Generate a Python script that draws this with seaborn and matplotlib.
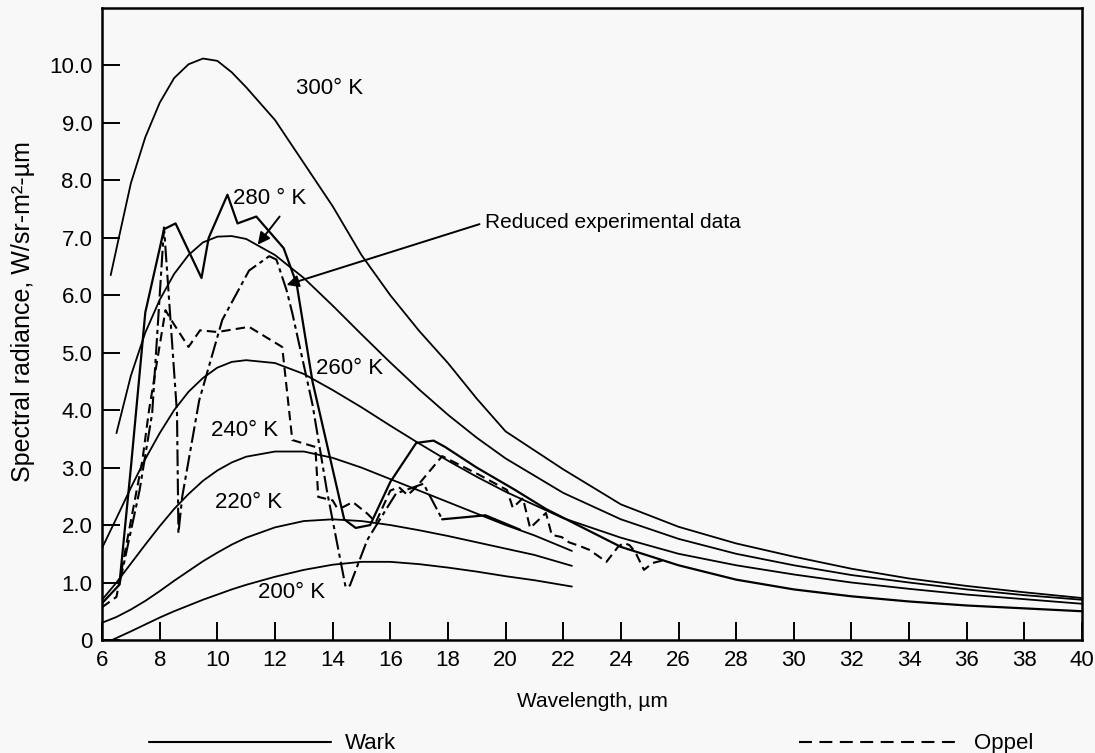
import matplotlib
matplotlib.use("Agg")
import matplotlib.pyplot as plt
import pandas as pd
import seaborn as sns
from matplotlib.lines import Line2D

# blackbody curves, values (wavelength um, W/sr-m2-um)
T300_X = [6.3, 6.6, 7.0, 7.5, 8.0, 8.5, 9.0, 9.5, 10.0, 10.5, 11.0, 12.0, 13.0, 14.0, 15.0,
          16.0, 17.0, 18.0, 19.0, 20.0, 22.0, 24.0, 26.0, 28.0, 30.0, 32.0, 34.0, 36.0, 38.0, 40.0]
T300_Y = [6.35, 7.04, 7.95, 8.75, 9.35, 9.78, 10.02, 10.12, 10.08, 9.88, 9.62, 9.05, 8.3, 7.55, 6.7,
          6.0, 5.38, 4.82, 4.2, 3.63, 2.97, 2.36, 1.97, 1.68, 1.45, 1.24, 1.07, 0.94, 0.83, 0.73]

T280_X = [6.5, 7.0, 7.5, 8.0, 8.5, 9.0, 9.5, 10.0, 10.5, 11.0, 12.0, 13.0, 14.0, 15.0, 16.0,
          17.0, 18.0, 19.0, 20.0, 22.0, 24.0, 26.0, 28.0, 30.0, 32.0, 34.0, 36.0, 38.0, 40.0]
T280_Y = [3.6, 4.6, 5.35, 5.92, 6.37, 6.7, 6.92, 7.02, 7.03, 6.98, 6.7, 6.3, 5.82, 5.32, 4.83,
          4.36, 3.92, 3.52, 3.16, 2.56, 2.1, 1.76, 1.5, 1.3, 1.13, 1.0, 0.88, 0.78, 0.70]

T260_X = [6.0, 6.5, 7.0, 7.5, 8.0, 8.5, 9.0, 9.5, 10.0, 10.5, 11.0, 12.0, 13.0, 14.0, 15.0,
          16.0, 17.0, 18.0, 19.0, 20.0, 22.0, 24.0, 26.0, 28.0, 30.0, 32.0, 34.0, 36.0, 38.0, 40.0]
T260_Y = [1.6, 2.12, 2.65, 3.15, 3.6, 4.0, 4.32, 4.56, 4.74, 4.84, 4.87, 4.82, 4.63, 4.35, 4.05,
          3.73, 3.42, 3.12, 2.84, 2.58, 2.12, 1.78, 1.5, 1.3, 1.14, 1.0, 0.89, 0.79, 0.71, 0.63]

SHORT_X = [6.0, 6.5, 7.0, 7.5, 8.0, 8.5, 9.0, 9.5, 10.0, 10.5, 11.0, 12.0, 13.0, 14.0, 15.0,
           16.0, 17.0, 18.0, 19.0, 20.0, 21.0, 22.3]
T240_Y = [0.7, 1.0, 1.33, 1.66, 1.98, 2.28, 2.54, 2.77, 2.95, 3.09, 3.19, 3.28, 3.28, 3.17, 3.0,
          2.8, 2.6, 2.4, 2.2, 2.0, 1.82, 1.55]
T220_Y = [0.3, 0.4, 0.53, 0.68, 0.85, 1.03, 1.2, 1.37, 1.52, 1.66, 1.78, 1.96, 2.07, 2.1, 2.07,
          2.0, 1.91, 1.81, 1.7, 1.59, 1.48, 1.29]

T200_X = [6.35, 7.0, 7.5, 8.0, 8.5, 9.0, 9.5, 10.0, 10.5, 11.0, 12.0, 13.0, 14.0, 15.0, 16.0,
          17.0, 18.0, 19.0, 20.0, 21.0, 22.3]
T200_Y = [0.0, 0.15, 0.27, 0.39, 0.5, 0.6, 0.7, 0.79, 0.88, 0.96, 1.1, 1.22, 1.31, 1.36, 1.36,
          1.32, 1.26, 1.19, 1.11, 1.04, 0.93]

# measured spectra
WARK_X = [6.0, 6.6, 7.0, 7.5, 8.15, 8.55, 9.45, 9.7, 10.35, 10.7, 11.35, 12.3, 12.75, 13.3, 14.4,
          14.8, 15.3, 16.0, 16.9, 17.5, 17.9, 19.0, 20.3, 21.4, 22.5, 24.0, 26.0, 28.0, 30.0,
          32.0, 34.0, 36.0, 38.0, 40.0]
WARK_Y = [0.64, 0.96, 3.0, 5.7, 7.15, 7.25, 6.3, 7.0, 7.75, 7.25, 7.37, 6.82, 6.2, 4.5, 2.1,
          1.95, 2.0, 2.75, 3.43, 3.47, 3.36, 3.0, 2.62, 2.28, 2.0, 1.62, 1.3, 1.05, 0.88,
          0.76, 0.67, 0.6, 0.55, 0.5]

WARK2_X = [17.8, 19.3, 20.5]
WARK2_Y = [2.1, 2.17, 1.92]

DD_X = [6.6, 7.3, 7.74, 8.15, 8.6, 8.65, 8.78, 9.37, 10.17, 11.1, 11.8, 12.05, 12.4, 12.6,
        13.3, 13.8, 14.45, 14.6, 15.2, 15.9, 16.2, 16.6, 17.15, 17.8]
DD_Y = [0.96, 2.6, 3.95, 7.18, 3.95, 1.86, 2.49, 4.17, 5.57, 6.43, 6.68, 6.62, 6.09, 5.69,
        4.1, 2.6, 0.92, 0.95, 1.74, 2.31, 2.55, 2.62, 2.72, 2.1]

OPPEL_X = [6.0, 6.5, 7.4, 7.63, 8.2, 8.4, 9.0, 9.4, 10.0, 11.1, 12.25, 12.6, 13.4, 13.5, 14.0,
           14.15, 14.35, 14.7, 15.2, 15.5, 16.0, 16.3, 16.6, 16.9, 17.8, 19.1, 20.05, 20.25,
           20.6, 20.85, 21.4, 21.6, 21.95, 22.2, 22.6, 22.9, 23.5, 23.9, 24.1, 24.3, 24.5,
           24.8, 25.1, 25.5]
OPPEL_Y = [0.57, 0.75, 3.13, 4.0, 5.74, 5.57, 5.1, 5.39, 5.36, 5.45, 5.1, 3.48, 3.36, 2.49, 2.43,
           2.3, 2.31, 2.4, 2.2, 2.05, 2.6, 2.66, 2.52, 2.66, 3.2, 2.87, 2.61, 2.3,
           2.47, 1.95, 2.21, 1.83, 1.79, 1.7, 1.63, 1.57, 1.36, 1.62, 1.69, 1.65, 1.53,
           1.22, 1.34, 1.39]

X_TICKS = list(range(6, 41, 2))
Y_TICKS = list(range(0, 11))


def frame(items):
    rows = []
    for name, xs, ys in items:
        for x, y in zip(xs, ys):
            rows.append((name, x, y))
    return pd.DataFrame(rows, columns=["curve", "wl", "rad"])


def plot():
    sns.set_theme(style="ticks")
    plt.rcParams["font.family"] = ["Liberation Sans", "DejaVu Sans"]
    for k in ["text.color", "axes.labelcolor", "xtick.color", "ytick.color"]:
        plt.rcParams[k] = "black"
    bg = "#f8f8f8"
    fig = plt.figure(figsize=(10.95, 7.53), dpi=100, facecolor=bg)
    ax = fig.add_axes([0.0932, 0.1501, 0.8950, 0.8393], facecolor=bg)

    bb = frame([("300", T300_X, T300_Y), ("280", T280_X, T280_Y), ("260", T260_X, T260_Y),
                ("240", SHORT_X, T240_Y), ("220", SHORT_X, T220_Y), ("200", T200_X, T200_Y)])
    sns.lineplot(data=bb, x="wl", y="rad", units="curve", estimator=None, sort=False,
                 color="black", lw=1.3, ax=ax)

    meas = frame([("w", WARK_X, WARK_Y), ("w2", WARK2_X, WARK2_Y)])
    sns.lineplot(data=meas, x="wl", y="rad", units="curve", estimator=None, sort=False,
                 color="black", lw=1.6, ax=ax)
    sns.lineplot(x=DD_X, y=DD_Y, sort=False, estimator=None, color="black", lw=1.5,
                 ax=ax).lines[-1].set_dashes((8, 2, 2, 2))
    sns.lineplot(x=OPPEL_X, y=OPPEL_Y, sort=False, estimator=None, color="black", lw=1.5,
                 ax=ax).lines[-1].set_dashes((4.5, 2.5))

    ax.set_xlim(6, 40)
    ax.set_ylim(0, 11)
    ax.set_xticks(X_TICKS)
    ax.set_yticks(Y_TICKS)
    ax.set_yticklabels(["0" if v == 0 else f"{v:.1f}" for v in Y_TICKS])
    ax.tick_params(direction="in", length=13, width=1.4, pad=7, labelsize=16)
    for s in ax.spines.values():
        s.set_linewidth(1.8)
        s.set_color("black")

    ax.set_xlabel("Wavelength, µm", fontsize=15, labelpad=15)
    ax.set_ylabel("Spectral radiance, W/sr-m²-µm", fontsize=18)
    ax.yaxis.set_label_coords(-0.068, 0.52)

    lab = dict(fontsize=16, ha="center", va="center")
    ax.text(13.9, 9.6, "300° K", **lab)
    ax.text(11.8, 7.69, "280 ° K", **lab)
    ax.text(14.6, 4.73, "260° K", **lab)
    ax.text(10.94, 3.65, "240° K", **lab)
    ax.text(11.08, 2.4, "220° K", **lab)
    ax.text(12.57, 0.82, "200° K", **lab)

    arrow = dict(arrowstyle="-|>", color="black", lw=1.4, mutation_scale=18, shrinkA=0, shrinkB=0)
    ax.annotate("", xy=(11.4, 6.88), xytext=(12.16, 7.37), arrowprops=arrow)
    ax.annotate("Reduced experimental data", xy=(12.4, 6.18), xytext=(19.3, 7.27),
                fontsize=15, ha="left", va="center",
                arrowprops=dict(arrow, relpos=(0, 0.5), shrinkA=2))

    wark = Line2D([], [], color="black", lw=1.5)
    oppel = Line2D([], [], color="black", lw=1.5, dashes=(6.2, 3.6))
    fig.legend([wark], ["Wark"], loc="center left", bbox_to_anchor=(0.136, 0.012),
               frameon=False, fontsize=16, handlelength=8.2, handletextpad=0.6,
               borderpad=0, borderaxespad=0)
    fig.legend([oppel], ["Oppel"], loc="center left", bbox_to_anchor=(0.73, 0.012),
               frameon=False, fontsize=16, handlelength=7.3, handletextpad=0.55,
               borderpad=0, borderaxespad=0)

    fig.savefig("out.png", dpi=100, facecolor=bg)


if __name__ == "__main__":
    plot()
